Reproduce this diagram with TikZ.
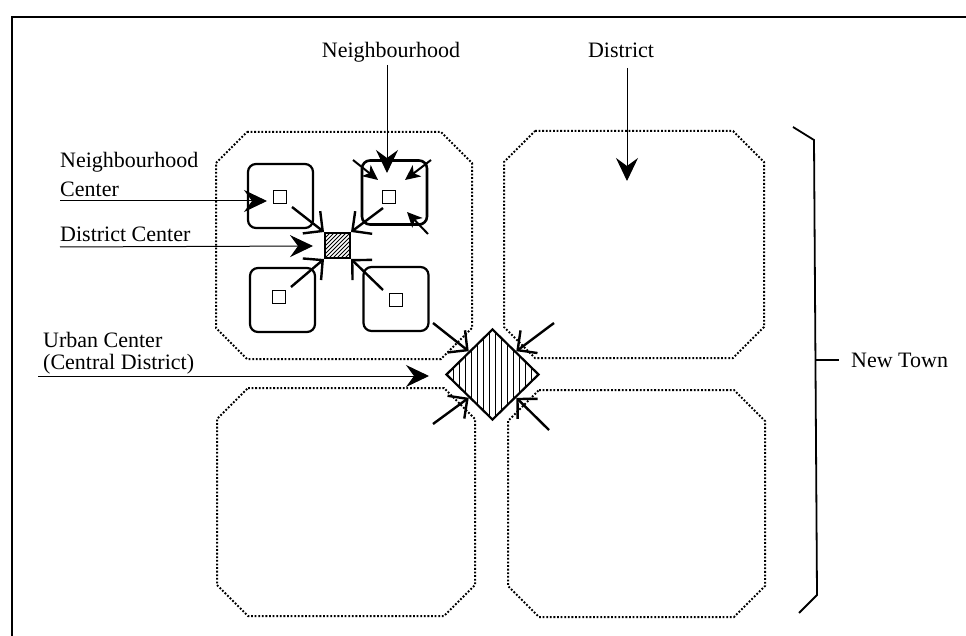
\documentclass[tikz,border=0pt]{standalone}
\usepackage{fontspec}
\setmainfont{Liberation Serif}
\usetikzlibrary{arrows.meta,shapes.geometric}
\begin{document}
\begin{tikzpicture}[x=1pt,y=-1pt,
  lbl/.style={font=\fontsize{22}{26}\selectfont, inner sep=0pt, anchor=base west},
  lblc/.style={font=\fontsize{22}{26}\selectfont, inner sep=0pt, anchor=base},
  octa/.style={line width=2pt, dash pattern=on 1.8pt off 1.8pt},
  nbox/.style={draw, line width=2.2pt, rounded corners=8pt, minimum width=65pt, minimum height=64pt, inner sep=0pt},
  csq/.style={draw, line width=1.6pt, minimum size=13pt, inner sep=0pt},
  labarrow/.style={line width=1pt, -{Stealth[length=23pt,width=22pt,inset=8pt]}},
  inarrow/.style={line width=2pt, -{Stealth[length=15pt,width=14pt,inset=4pt]}},
  barb/.style={line width=2.4pt, -{Straight Barb[angle=90:20pt]}},
  frame/.style={line width=2pt},
  brk/.style={line width=1.8pt},
]
\useasboundingbox (0,0) rectangle (966,636);
\fill[white] (0,0) rectangle (966,636);

% frame
\coordinate (fa) at (12,636);
\coordinate (fb) at (12,17);
\coordinate (fc) at (966,17);
\draw[frame] (fa) -- (fb) -- (fc);

% districts (dotted octagons)
\draw[octa] (247,132) -- (441,132) -- (472,163) -- (472,328) -- (441,359) -- (247,359) -- (216,328) -- (216,163) -- cycle;
\draw[octa] (535,131) -- (733,131) -- (764,162) -- (764,327) -- (733,358) -- (535,358) -- (504,327) -- (504,162) -- cycle;
\draw[octa] (248,388) -- (444,388) -- (475,419) -- (475,585) -- (444,616) -- (248,616) -- (217,585) -- (217,419) -- cycle;
\draw[octa] (539,390) -- (734,390) -- (765,421) -- (765,586) -- (734,617) -- (539,617) -- (508,586) -- (508,421) -- cycle;

% neighbourhood boxes
\node[nbox] (nbnw) at (280.5,196) {};
\node[nbox, line width=2.6pt] (nbne) at (394.5,192.5) {};
\node[nbox] (nbsw) at (282.5,300) {};
\node[nbox] (nbse) at (396,299) {};

% neighbourhood centers
\node[csq] (cnw) at (280,197) {};
\node[csq] (cne) at (389,197) {};
\node[csq] (csw) at (279,297) {};
\node[csq] (cse) at (396,300) {};

% district center (hatched)
\node[draw, line width=2pt, minimum size=25pt, inner sep=0pt, fill=white,
  path picture={\foreach \k in {-36,-32,...,36}{\draw[line width=0.9pt] (path picture bounding box.center) ++({\k-20},20) -- ++(40,-40);}}] (dc) at (337.5,245.5) {};

% urban center (diamond)
\node[diamond, draw, line width=2.2pt, minimum width=93pt, minimum height=91pt, inner sep=0pt, fill=white,
  path picture={\foreach \k in {-45,-39,...,45}{\draw[line width=1.1pt] (path picture bounding box.center) ++(\k,-50) -- ++(0,100);}}] (uc) at (492.5,374.5) {};

% arrows from neighbourhood centers to district center
\coordinate (snw) at (292,207);
\coordinate (sne) at (383,208);
\coordinate (ssw) at (291,287);
\coordinate (sse) at (383,290);
\draw[barb] (snw) -- (dc.north west);
\draw[barb] (sne) -- (dc.north east);
\draw[barb] (ssw) -- (dc.south west);
\draw[barb] (sse) -- (dc.south east);

% arrows to urban center
\coordinate (unw) at (433,323);
\coordinate (une) at (554,323);
\coordinate (usw) at (433,424);
\coordinate (use) at (549,430);
\draw[barb] (unw) -- (uc.north west);
\draw[barb] (une) -- (uc.north east);
\draw[barb] (usw) -- (uc.south west);
\draw[barb] (use) -- (uc.south east);

% inward arrows in the labelled neighbourhood
\coordinate (i1) at (353,160);
\coordinate (i1t) at (378,180);
\coordinate (i2) at (431,160);
\coordinate (i2t) at (405,180);
\coordinate (i3) at (428,234);
\coordinate (i3t) at (407,212);
\draw[inarrow] (i1) -- (i1t);
\draw[inarrow] (i2) -- (i2t);
\draw[inarrow] (i3) -- (i3t);

% labels
\node[lblc] (lnb) at (391,58) {Neighbourhood};
\node[lblc] (ldi) at (621,58) {District};
\node[lbl] (lnc1) at (60,168) {Neighbourhood};
\node[lbl] (lnc2) at (60,197) {Center};
\node[lbl] (ldc) at (60,242) {District Center};
\node[lbl] (luc1) at (43,347) {Urban Center};
\node[lbl] (luc2) at (43,369) {(Central District)};
\node[lbl] (lnt) at (851,367) {New Town};

% label arrows
\coordinate (a1s) at (387,65);
\coordinate (a1t) at (387,173);
\coordinate (a2s) at (627,68);
\coordinate (a2t) at (627,181);
\coordinate (a3s) at (60,201);
\coordinate (a3t) at (267,201);
\coordinate (a4s) at (60,247);
\coordinate (a4t) at (313,246);
\coordinate (a5s) at (38,376);
\coordinate (a5t) at (429,376);
\draw[labarrow] (a1s) -- (a1t);
\draw[labarrow] (a2s) -- (a2t);
\draw[labarrow] (a3s) -- (a3t);
\draw[labarrow] (a4s) -- (a4t);
\draw[labarrow] (a5s) -- (a5t);

% New Town bracket
\coordinate (b1) at (793,127);
\coordinate (b2) at (814,140);
\coordinate (b3) at (817,595);
\coordinate (b4) at (799,613);
\coordinate (bm) at (816,360);
\coordinate (bt) at (839,360);
\draw[brk] (b1) -- (b2) -- (b3) -- (b4);
\draw[line width=1.2pt] (bm) -- (bt);
\end{tikzpicture}
\end{document}
